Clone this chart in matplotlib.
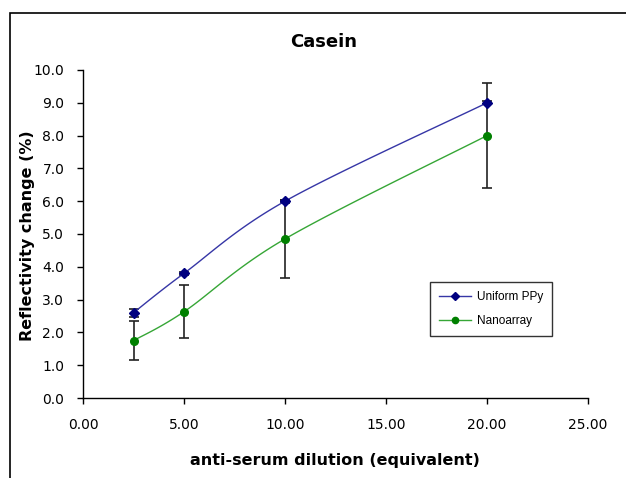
import numpy as np
import matplotlib
matplotlib.use("Agg")
import matplotlib.pyplot as plt
from matplotlib.patches import Rectangle
from matplotlib.ticker import FormatStrFormatter

plt.rcParams['font.family'] = ['DejaVu Sans']

dilution = [2.5, 5.0, 10.0, 20.0]
uniform_ppy = [2.6, 3.8, 6.0, 9.0]
uniform_err = [0.12, 0.05, 0.05, 0.05]
nanoarray = [1.75, 2.63, 4.85, 8.0]
nano_err = [0.6, 0.8, 1.2, 1.6]


def smooth_curve(x, y, n=40):
    """Cubic Bezier smoothing through the points (Catmull-Rom style)."""
    pts = np.column_stack([np.asarray(x, float), np.asarray(y, float)])
    out = []
    for i in range(len(pts) - 1):
        p0 = pts[i - 1] if i > 0 else pts[i]
        p1 = pts[i]
        p2 = pts[i + 1]
        p3 = pts[i + 2] if i + 2 < len(pts) else pts[i + 1]
        c1 = p1 + (p2 - p0) / 6.0
        c2 = p2 - (p3 - p1) / 6.0
        t = np.linspace(0, 1, n)[:, None]
        seg = ((1 - t) ** 3) * p1 + 3 * ((1 - t) ** 2) * t * c1 \
            + 3 * (1 - t) * t ** 2 * c2 + t ** 3 * p2
        out.append(seg if i == 0 else seg[1:])
    seg = np.vstack(out)
    return seg[:, 0], seg[:, 1]


W, H = 626, 478
fig = plt.figure(figsize=(W / 100, H / 100), dpi=100)
ax = fig.add_axes([83 / W, 1 - 398 / H, 505 / W, 328 / H])

# outer chart frame
fig.patches.append(Rectangle((10 / W, -0.01), 1.0, 1 - 13 / H + 0.01,
                             transform=fig.transFigure, fill=False,
                             edgecolor='black', linewidth=1.2))

blue_line = '#3636a6'
blue_mark = '#000080'
green_line = '#36a636'
green_mark = '#008000'

# error bars
ax.errorbar(dilution, nanoarray, yerr=nano_err, fmt='none', ecolor='#222222',
            elinewidth=1.2, capsize=3.5, capthick=1.2, zorder=2)
ax.errorbar(dilution, uniform_ppy, yerr=uniform_err, fmt='none', ecolor='#222222',
            elinewidth=1.2, capsize=3.5, capthick=1.2, zorder=2)

sx, sy = smooth_curve(dilution, uniform_ppy)
ax.plot(sx, sy, color=blue_line, linewidth=1.0, zorder=3)
sx, sy = smooth_curve(dilution, nanoarray)
ax.plot(sx, sy, color=green_line, linewidth=1.0, zorder=3)

ax.plot(dilution, uniform_ppy, linestyle='none', marker='D', markersize=5,
        color=blue_mark, zorder=4)
ax.plot(dilution, nanoarray, linestyle='none', marker='o', markersize=5.5,
        color=green_mark, zorder=4)

# legend handles
h1, = ax.plot([], [], color=blue_line, marker='D', markersize=4,
              markerfacecolor=blue_mark, markeredgecolor=blue_mark, linewidth=1.0)
h2, = ax.plot([], [], color=green_line, marker='o', markersize=4.5,
              markerfacecolor=green_mark, markeredgecolor=green_mark, linewidth=1.0)
leg = ax.legend([h1, h2], ['Uniform PPy', 'Nanoarray'], loc='upper left',
                bbox_to_anchor=((430 - 83) / 505, (398 - 282) / 328),
                frameon=True, fancybox=False, edgecolor='black',
                prop={'family': 'Liberation Sans', 'size': 8.5},
                handlelength=2.7, borderpad=0.75, labelspacing=1.05,
                handletextpad=0.5, borderaxespad=0)
leg.get_frame().set_linewidth(1.0)

ax.set_xlim(0, 25)
ax.set_ylim(0, 10)
ax.set_xticks(np.arange(0, 25.1, 5))
ax.set_yticks(np.arange(0, 10.1, 1))
ax.xaxis.set_major_formatter(FormatStrFormatter('%.2f'))
ax.yaxis.set_major_formatter(FormatStrFormatter('%.1f'))
ax.tick_params(direction='out', length=4, width=1.0, labelsize=10)
ax.tick_params(axis='x', pad=10.5)
ax.tick_params(axis='y', pad=9.5)
for s in ['top', 'right']:
    ax.spines[s].set_visible(False)
for s in ['left', 'bottom']:
    ax.spines[s].set_linewidth(1.0)

fig.text(324 / W, 1 - 42 / H, 'Casein', fontsize=13, fontweight='bold',
         ha='center', va='center')
fig.text(335 / W, 1 - 460 / H, 'anti-serum dilution (equivalent)',
         fontsize=11.5, fontweight='bold', ha='center', va='center')
fig.text(28 / W, 1 - 236 / H, 'Reflectivity change (%)', fontsize=11.5,
         fontweight='bold', ha='center', va='center', rotation=90)

fig.savefig('out.png', dpi=100)
